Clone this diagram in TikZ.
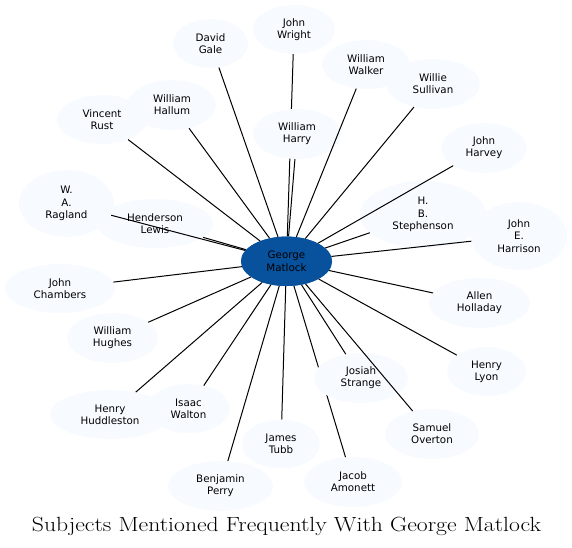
\documentclass[tikz,border=0pt]{standalone}
\usepackage{fontspec}
\newfontfamily\nodefont{DejaVu Sans}
\usetikzlibrary{shapes.geometric}
\definecolor{leaf}{HTML}{F7FBFF}
\definecolor{hub}{HTML}{08519C}
\tikzset{
  person/.style={ellipse, fill=leaf, draw=none, inner sep=0pt, align=center,
    font=\nodefont\fontsize{10.3}{12.2}\selectfont},
  hubnode/.style={person, fill=hub},
  link/.style={draw=black, line width=1pt}
}
\newcommand{\pers}[5]{\node[person, minimum width=#3*2pt, minimum height=#4*2pt] (#1) at (#2) {#5};}
\begin{document}
\begin{tikzpicture}[x=1pt,y=-1pt]
\useasboundingbox (0,0) rectangle (572,547);
\pers{wr}{294,29.5}{41}{24.5}{John\\Wright}
\pers{dg}{210.5,43.5}{37.5}{24.5}{David\\Gale}
\pers{ww}{366,64.5}{44}{24.5}{William\\Walker}
\pers{ws}{433,84}{47}{25}{Willie\\Sullivan}
\pers{vr}{102,119.5}{45}{24.5}{Vincent\\Rust}
\pers{wh}{172,105}{44}{25}{William\\Hallum}
\pers{jh}{484,148}{43}{25}{John\\Harvey}
\pers{wa}{66.5,203.5}{47.5}{33.5}{W.\\A.\\Ragland}
\pers{hb}{423,214.5}{63}{33.5}{H.\\B.\\Stephenson}
\pers{je}{519,236}{48}{34}{John\\E.\\Harrison}
\pers{jc}{60,288.5}{55}{24.5}{John\\Chambers}
\pers{ah}{479.5,303}{50.5}{25}{Allen\\Holladay}
\pers{wu}{112.5,338}{45.5}{25}{William\\Hughes}
\pers{hl}{486.5,371.5}{39.5}{24.5}{Henry\\Lyon}
\pers{hh}{110,414.5}{60}{24.5}{Henry\\Huddleston}
\pers{iw}{188.5,408.5}{41.5}{24.5}{Isaac\\Walton}
\pers{so}{432,434}{47}{25}{Samuel\\Overton}
\pers{jt}{281,444}{39}{24.5}{James\\Tubb}
\pers{bp}{220.5,486}{52.5}{25}{Benjamin\\Perry}
\pers{ja}{353,482}{49}{25}{Jacob\\Amonett}
\node[hubnode, minimum width=91pt, minimum height=49.4pt] (gm) at (286.5,261.3) {George\\Matlock};
% edges that pass under overlapping nodes
\draw[link] (gm) -- (wr);
\draw[link] (gm) -- (ja);
\draw[link] (gm) -- (hl);
% overlapping nodes drawn on top
\pers{wy}{297,134}{44}{25}{William\\Harry}
\pers{js}{361,378}{47}{25}{Josiah\\Strange}
\pers{he}{155,223.5}{58}{24.5}{Henderson\\Lewis}
% remaining edges
\foreach \t in {dg,ww,ws,vr,wh,jh,hb,je,jc,ah,wu,hh,iw,so,jt,bp,wy,js,he,wa}
  \draw[link] (gm) -- (\t);
\node[hubnode, minimum width=91pt, minimum height=49.4pt] (gmtop) at (286.5,261.3) {George\\Matlock};
\node[anchor=base, inner sep=0pt] (title) at (286.5,531.5) {\scalebox{1.155}[1]{\fontsize{20.5}{24}\selectfont Subjects Mentioned Frequently With George Matlock}};
\end{tikzpicture}
\end{document}
